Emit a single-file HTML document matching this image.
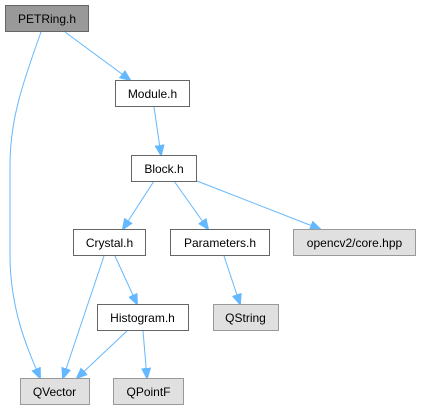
<!DOCTYPE html>
<html><head><meta charset="utf-8"><style>
html,body{margin:0;padding:0;background:#fff;width:422px;height:411px;overflow:hidden}
text{font-family:"Liberation Sans",Arial,sans-serif;font-size:12px;fill:#000}
</style></head><body>
<svg width="422" height="411" viewBox="0 0 422 411" xmlns="http://www.w3.org/2000/svg">
<defs><marker id="a" markerWidth="12" markerHeight="12" refX="10" refY="5.5" orient="auto" markerUnits="userSpaceOnUse">
<path d="M0,1 L11,5.5 L0,10 z" fill="#63b8ff" stroke="#63b8ff"/></marker></defs>
<g fill="none" stroke="#63b8ff" stroke-width="1" marker-end="url(#a)">
<path d="M65,32 L130,80"/>
<path d="M41,32 C22,85 10,120 10,165 L10,255 C10,310 28,350 40,378"/>
<path d="M154,107 L161,155"/>
<path d="M154,181 L123,229"/>
<path d="M174,181 L208,229"/>
<path d="M197,181 L320,229"/>
<path d="M104,256 L63,378"/>
<path d="M115,256 L137,304"/>
<path d="M224,256 L240,304"/>
<path d="M127,331 L77,378"/>
<path d="M143,331 L147,378"/>
</g>
<g stroke-width="1">
<rect x="5.5" y="5.5" width="83" height="26" fill="#999" stroke="#666"/>
<rect x="115.5" y="80.5" width="74" height="26" fill="#fff" stroke="#666"/>
<rect x="131.5" y="155.5" width="65" height="26" fill="#fff" stroke="#666"/>
<rect x="73.5" y="229.5" width="72" height="26" fill="#fff" stroke="#666"/>
<rect x="170.5" y="229.5" width="99" height="26" fill="#fff" stroke="#666"/>
<rect x="293.5" y="229.5" width="122" height="26" fill="#e0e0e0" stroke="#999"/>
<rect x="97.5" y="304.5" width="91" height="26" fill="#fff" stroke="#666"/>
<rect x="213.5" y="304.5" width="65" height="26" fill="#e0e0e0" stroke="#999"/>
<rect x="20.5" y="378.5" width="69" height="26" fill="#e0e0e0" stroke="#999"/>
<rect x="113.5" y="378.5" width="70" height="26" fill="#e0e0e0" stroke="#999"/>
</g>
<g text-anchor="middle">
<text x="47" y="23">PETRing.h</text>
<text x="152.5" y="98">Module.h</text>
<text x="164" y="173">Block.h</text>
<text x="109.5" y="247">Crystal.h</text>
<text x="220" y="247">Parameters.h</text>
<text x="354.5" y="247">opencv2/core.hpp</text>
<text x="142.5" y="322">Histogram.h</text>
<text x="245.5" y="322">QString</text>
<text x="54.5" y="396">QVector</text>
<text x="148.5" y="396">QPointF</text>
</g>
</svg>
</body></html>
